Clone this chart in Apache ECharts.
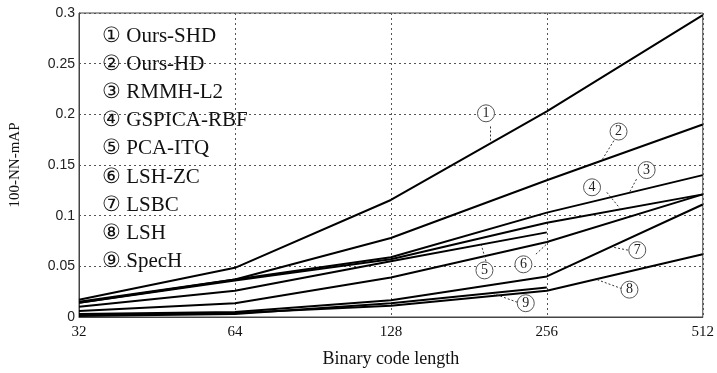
<!DOCTYPE html>
<html>
<head>
<meta charset="utf-8">
<script src="https://cdn.jsdelivr.net/npm/echarts@6/dist/echarts.min.js"></script>
<style>
  html, body { margin: 0; padding: 0; background: #fff; }
  #chart { width: 717px; height: 373px; }
</style>
</head>
<body>
<div id="chart"></div>
<script type="text/javascript">
    // binary code lengths (x) and 100-NN-mAP per method
    var codeLengths = [32, 64, 128, 256, 512];
    var methodNames = ['Ours-SHD', 'Ours-HD', 'RMMH-L2', 'GSPICA-RBF', 'PCA-ITQ', 'LSH-ZC', 'LSBC', 'LSH', 'SpecH'];
    var circled = ['①', '②', '③', '④', '⑤', '⑥', '⑦', '⑧', '⑨'];

    var oursSHD   = [0.017, 0.0485, 0.1155, 0.203, 0.298];
    var oursHD    = [0.014, 0.037, 0.078, 0.135, 0.190];
    var rmmhL2    = [0.015, 0.037, 0.059, 0.103, 0.140];
    var gspicaRBF = [0.014, 0.036, 0.057, 0.093, 0.121];
    var pcaITQ    = [0.010, 0.026, 0.055, 0.0835, null];
    var lshZC     = [0.006, 0.0136, 0.039, 0.074, 0.121];
    var lsbc      = [0.003, 0.005, 0.0165, 0.040, 0.111];
    var lsh       = [0.002, 0.004, 0.011, 0.026, 0.062];
    var specH     = [0.001, 0.003, 0.0136, 0.029, null];
    var allValues = [oursSHD, oursHD, rmmhL2, gspicaRBF, pcaITQ, lshZC, lsbc, lsh, specH];

    // callout for each curve, in data units (x as log2 of code length):
    // [circle x, circle y, leader start x, leader start y, leader end x, leader end y]
    var callouts = [
        [7.61, 0.201, 7.64, 0.188, 7.64, 0.174],
        [8.46, 0.183, 8.43, 0.174, 8.35, 0.154],
        [8.64, 0.145, 8.575, 0.136, 8.53, 0.123],
        [8.29, 0.128, 8.385, 0.123, 8.47, 0.107],
        [7.60, 0.046, 7.61, 0.055, 7.58, 0.071],
        [7.85, 0.052, 7.93, 0.062, 8.02, 0.075],
        [8.58, 0.066, 8.52, 0.066, 8.42, 0.069],
        [8.53, 0.027, 8.48, 0.028, 8.32, 0.037],
        [7.865, 0.0136, 7.81, 0.0146, 7.66, 0.023]
    ];

    var serif = '"Liberation Serif", "DejaVu Serif", serif';

    function buildSeries() {
        var series = [];
        for (var i = 0; i < methodNames.length; i++) {
            var pts = [];
            for (var j = 0; j < codeLengths.length; j++) {
                if (allValues[i][j] !== null) {
                    pts.push([Math.log2(codeLengths[j]), allValues[i][j]]);
                }
            }
            var c = callouts[i];
            series.push({
                name: methodNames[i],
                type: 'line',
                data: pts,
                symbol: 'none',
                lineStyle: { color: '#000', width: 2 },
                itemStyle: { color: '#000' },
                markPoint: {
                    symbol: 'circle',
                    symbolSize: 17,
                    silent: true,
                    itemStyle: { color: '#fff', borderColor: '#555', borderWidth: 1 },
                    label: {
                        show: true,
                        position: 'inside',
                        formatter: String(i + 1),
                        color: '#222',
                        fontFamily: serif,
                        fontSize: 14
                    },
                    data: [{ coord: [c[0], c[1]] }]
                },
                markLine: {
                    symbol: 'none',
                    silent: true,
                    label: { show: false },
                    lineStyle: { color: '#333', type: [2, 2], width: 1 },
                    data: [[{ coord: [c[2], c[3]] }, { coord: [c[4], c[5]] }]]
                }
            });
        }
        return series;
    }

    var chart = echarts.init(document.getElementById('chart'));
    chart.setOption({
        animation: false,
        grid: {
            left: 73, right: 13, top: 13, bottom: 51,
            show: true, borderColor: '#444', borderWidth: 1
        },
        legend: {
            orient: 'vertical',
            left: 92,
            top: 20,
            icon: 'none',
            itemWidth: 0,
            itemHeight: 22,
            itemGap: 6.7,
            selectedMode: false,
            formatter: function (name) {
                return circled[methodNames.indexOf(name)] + ' ' + name;
            },
            textStyle: { color: '#111', fontFamily: serif, fontSize: 21 }
        },
        xAxis: {
            type: 'value',
            min: 5, max: 9, interval: 1,
            name: 'Binary code length',
            nameLocation: 'middle',
            nameGap: 33,
            nameTextStyle: { color: '#111', fontFamily: serif, fontSize: 18 },
            axisLine: { lineStyle: { color: '#444' } },
            axisTick: { show: false },
            axisLabel: {
                color: '#111', fontFamily: serif, fontSize: 15, margin: 8,
                formatter: function (v) { return String(Math.pow(2, v)); }
            },
            splitLine: { show: true, lineStyle: { color: '#555', type: [2, 3], width: 1 } }
        },
        yAxis: {
            type: 'value',
            min: 0, max: 0.3, interval: 0.05,
            name: '100-NN-mAP',
            nameLocation: 'middle',
            nameGap: 56,
            nameTextStyle: { color: '#111', fontFamily: serif, fontSize: 15 },
            axisLine: { show: true, lineStyle: { color: '#444' } },
            axisTick: { show: false },
            axisLabel: {
                color: '#222', fontFamily: '"Liberation Sans", Arial, sans-serif', fontSize: 14, margin: 4,
                formatter: function (v) { return String(+v.toFixed(2)); }
            },
            splitLine: { show: true, lineStyle: { color: '#555', type: [2, 3], width: 1 } }
        },
        series: buildSeries()
    });
</script>
</body>
</html>
